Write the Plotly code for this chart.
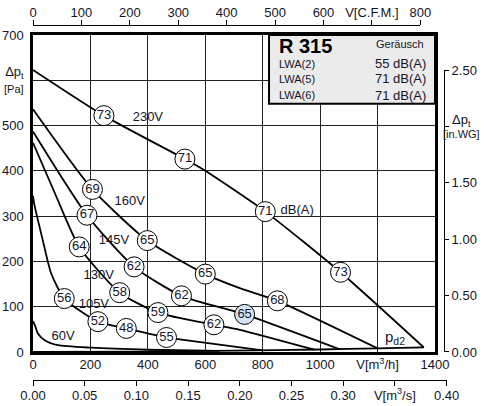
import plotly.graph_objects as go

# ---------------- data ----------------
v230_x = [0, 247, 529, 600, 809, 1071, 1361]
v230_y = [623, 522, 426, 400, 310, 176, 10]
v160_x = [0, 207, 398, 600, 720, 851, 1200]
v160_y = [536, 359, 246, 172, 141, 113, 8]
v145_x = [0, 188, 352, 517, 737, 1068]
v145_y = [487, 302, 188, 124, 83, 6]
v130_x = [0, 80, 161, 302, 435, 630, 720, 980]
v130_y = [462, 345, 232, 131, 87, 60, 49, 5]
v105_x = [0, 5, 34, 63, 109, 226, 325, 465, 511, 800]
v105_y = [345, 325, 247, 174, 118, 67, 52, 32, 28, 3.5]
v60_x = [0, 6, 17, 41, 87, 203, 400, 650]
v60_y = [68, 60, 41, 26, 15, 9.5, 5, 2.3]
pd2_x = [0, 400, 700, 1000, 1200, 1361]
pd2_y = [0, 1, 3, 5.5, 8, 10]

db_vals = ["73", "71", "69", "71", "67", "65", "64", "62", "65", "73",
           "58", "62", "56", "68", "59", "65", "52", "62", "48", "55"]
db_x = [247, 529, 207, 809, 188, 398, 161, 352, 600, 1071,
        302, 517, 109, 851, 435, 737, 226, 630, 325, 465]
db_y = [522, 426, 359, 310, 302, 246, 232, 188, 172, 176,
        131, 124, 118, 113, 87, 83, 67, 60, 52, 32]
db_fill = ["white"] * 15 + ["#d3e3f2"] + ["white"] * 4

volt_labels = ["230V", "160V", "145V", "130V", "105V", "60V", "dB(A)"]
volt_x = [400, 337, 282, 229, 212, 105, 920]
volt_y = [517, 332, 246, 168, 105, 34, 312]

x_ticks = [0, 200, 400, 600, 800, 1000, 1200, 1400]
x_text = ["0", "200", "400", "600", "800", "1000", "V[m<sup>3</sup>/h]", "1400"]
y_ticks = [0, 100, 200, 300, 400, 500, 600, 700]
y_text = ["0", "100", "200", "300", "400", "500",
          "Δp<sub>t</sub><br><span style='font-size:11px'>[Pa]</span>", "700"]
cfm_ticks = [0, 100, 200, 300, 400, 500, 600, 700, 800]
cfm_text = ["0", "100", "200", "300", "400", "500", "600", "V[C.F.M.]", "800"]
ms_ticks = [0, 0.05, 0.10, 0.15, 0.20, 0.25, 0.30, 0.35, 0.40]
ms_text = ["0.00", "0.05", "0.10", "0.15", "0.20", "0.25", "0.30", "V[m<sup>3</sup>/s]", "0.40"]
wg_ticks = [0, 0.5, 1.0, 1.5, 2.0, 2.5]
wg_text = ["0.00", "0.50", "1.00", "1.50", "", "2.50"]

box_rows = ["LWA(2)", "LWA(5)", "LWA(6)"]
box_vals = ["55 dB(A)", "71 dB(A)", "71 dB(A)"]

FONT = "Liberation Sans, Arial, sans-serif"
TXT = "#15152a"

fig = go.Figure()
for xs, ys in [(v230_x, v230_y), (v160_x, v160_y), (v145_x, v145_y),
               (v130_x, v130_y), (v105_x, v105_y), (v60_x, v60_y), (pd2_x, pd2_y)]:
    fig.add_trace(go.Scatter(x=xs, y=ys, mode="lines",
                             line=dict(color="black", width=1.8, shape="spline", smoothing=0.6),
                             hoverinfo="skip", showlegend=False))

fig.add_trace(go.Scatter(x=db_x, y=db_y, mode="markers+text", text=db_vals,
                         textposition="middle center",
                         textfont=dict(family=FONT, size=13, color=TXT),
                         marker=dict(size=20, color=db_fill, line=dict(color="black", width=1)),
                         hoverinfo="skip", showlegend=False))

fig.add_trace(go.Scatter(x=volt_x, y=volt_y, mode="text", text=volt_labels,
                         textposition="middle center",
                         textfont=dict(family=FONT, size=13, color=TXT),
                         hoverinfo="skip", showlegend=False))

# invisible helper traces so the secondary x axes are drawn
fig.add_trace(go.Scatter(x=[0], y=[0], xaxis="x2", yaxis="y2", mode="markers",
                         marker=dict(opacity=0), hoverinfo="skip", showlegend=False))
fig.add_trace(go.Scatter(x=[0], y=[0], xaxis="x3", yaxis="y2", mode="markers",
                         marker=dict(opacity=0), hoverinfo="skip", showlegend=False))

tickfont = dict(family=FONT, size=13, color=TXT)

fig.update_layout(
    width=484, height=406,
    margin=dict(l=33, r=37, t=25, b=26, autoexpand=False),
    paper_bgcolor="white", plot_bgcolor="rgba(0,0,0,0)",
    font=dict(family=FONT, color=TXT),
    xaxis=dict(domain=[0, 0.97101], range=[0, 1400], tickvals=x_ticks, ticktext=x_text,
               showgrid=True, gridcolor="#222", gridwidth=1, zeroline=False,
               showline=True, linecolor="black", linewidth=2.5, mirror=True,
               ticks="", tickfont=tickfont, ticklabelstandoff=-1, layer="below traces",
               automargin=False),
    yaxis=dict(domain=[0.0789, 0.9718], range=[0, 700], tickvals=y_ticks, ticktext=y_text,
               showgrid=True, gridcolor="#222", gridwidth=1, zeroline=False,
               showline=True, linecolor="black", linewidth=2.5, mirror=True,
               ticks="", tickfont=tickfont, ticklabelstandoff=4, layer="below traces",
               automargin=False),
    xaxis2=dict(domain=[0, 0.9355], range=[0, 800], anchor="free", position=1, side="top",
                tickvals=cfm_ticks, ticktext=cfm_text, showgrid=False, zeroline=False,
                showline=True, linecolor="black", linewidth=1,
                ticks="outside", ticklen=5, tickcolor="black", tickfont=tickfont,
                ticklabelstandoff=-2, automargin=False),
    xaxis3=dict(domain=[0, 0.999], range=[0, 0.40], anchor="free", position=0, side="bottom",
                tickvals=ms_ticks, ticktext=ms_text, showgrid=False, zeroline=False,
                showline=True, linecolor="black", linewidth=1,
                ticks="outside", ticklen=5, tickcolor="black", tickfont=tickfont,
                ticklabelstandoff=-2, automargin=False),
    yaxis2=dict(domain=[0.0789, 0.8732], range=[0, 2.5], anchor="free", position=0.9928,
                side="right", tickvals=wg_ticks, ticktext=wg_text, showgrid=False,
                zeroline=False, showline=True, linecolor="black", linewidth=1,
                ticks="outside", ticklen=4, tickcolor="black", tickfont=tickfont,
                automargin=False),
)

fig.add_shape(type="rect", xref="x", yref="y", x0=822, x1=1400, y0=548, y1=700,
              fillcolor="#ebebeb", line=dict(color="black", width=2), layer="above")

fig.add_annotation(x=849, y=676, xref="x", yref="y", text="<b>R 315</b>", showarrow=False,
                   xanchor="left", yanchor="middle", font=dict(family=FONT, size=20, color="black"))
fig.add_annotation(x=1368, y=680, xref="x", yref="y", text="Geräusch", showarrow=False,
                   xanchor="right", yanchor="middle", font=dict(family=FONT, size=11, color=TXT))
for lab, val, yy in zip(box_rows, box_vals, [636, 603, 567]):
    fig.add_annotation(x=849, y=yy, xref="x", yref="y", text=lab, showarrow=False,
                       xanchor="left", yanchor="middle", font=dict(family=FONT, size=11, color=TXT))
    fig.add_annotation(x=1374, y=yy, xref="x", yref="y", text=val, showarrow=False,
                       xanchor="right", yanchor="middle", font=dict(family=FONT, size=13, color=TXT))

fig.add_annotation(x=1.036, y=2.0, xref="paper", yref="y2",
                   text="<span style='font-size:13px'>Δp<sub>t</sub></span><br>[in.WG]",
                   showarrow=False, xanchor="center", yanchor="middle",
                   font=dict(family=FONT, size=11, color=TXT))
fig.add_annotation(x=1262, y=31, xref="x", yref="y", text="p<sub>d2</sub>", showarrow=False,
                   xanchor="center", yanchor="middle", font=dict(family=FONT, size=15, color=TXT))

fig.write_html("out.html", config={"displayModeBar": False},
               post_script="document.body.style.margin='0';")
